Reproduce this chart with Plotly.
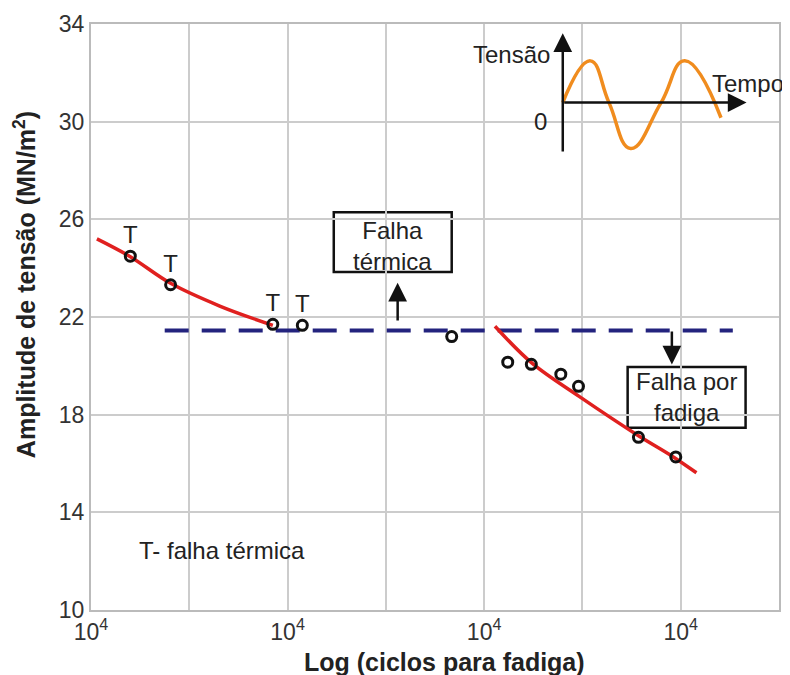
import plotly.graph_objects as go

# ---- data (x in grid units of the log axis, y in MN/m^2) ----
thermal_x = [0.40, 0.81, 1.85, 2.15]
thermal_y = [24.49, 23.32, 21.70, 21.66]
fatigue_x = [3.67, 4.24, 4.48, 4.78, 4.96, 5.57, 5.95]
fatigue_y = [21.20, 20.15, 20.06, 19.66, 19.16, 17.07, 16.27]
curve1_x = [0.06, 0.40, 0.81, 1.31, 1.85]
curve1_y = [25.20, 24.47, 23.38, 22.45, 21.66]
curve2_x = [4.11, 4.49, 4.97, 5.57, 5.89, 6.16]
curve2_y = [21.62, 20.10, 18.74, 17.14, 16.36, 15.62]
limit_x = [0.75, 6.53]
limit_y = [21.45, 21.45]
# schematic sine of the inset
sine_x = [4.80, 5.08, 5.27, 5.49, 5.80, 6.04, 6.41]
sine_y = [30.78, 32.49, 30.78, 28.90, 30.78, 32.49, 30.16]
y_ticks = [10, 14, 18, 22, 26, 30, 34]
x_grid = [0, 1, 2, 3, 4, 5, 6, 7]
x_ticktext = ["10<sup>4</sup>", "", "10<sup>4</sup>", "", "10<sup>4</sup>", "", "10<sup>4</sup>", ""]

FONT = "Liberation Sans, Arial, sans-serif"
TXT = "#222222"
fig = go.Figure()

fig.add_trace(go.Scatter(x=limit_x, y=limit_y, mode="lines",
                         line=dict(color="#23237e", width=4, dash="24px,13px")))
fig.add_trace(go.Scatter(x=curve1_x, y=curve1_y, mode="lines", line_shape="spline",
                         line=dict(color="#e0201f", width=3.5)))
fig.add_trace(go.Scatter(x=curve2_x, y=curve2_y, mode="lines", line_shape="spline",
                         line=dict(color="#e0201f", width=3.5)))
fig.add_trace(go.Scatter(x=thermal_x, y=thermal_y, mode="markers+text",
                         text=["T"] * len(thermal_x), textposition="top center",
                         textfont=dict(family=FONT, size=24, color=TXT),
                         marker=dict(symbol="circle-open", size=10, color="#111",
                                     line=dict(width=3, color="#111"))))
fig.add_trace(go.Scatter(x=fatigue_x, y=fatigue_y, mode="markers",
                         marker=dict(symbol="circle-open", size=10, color="#111",
                                     line=dict(width=3, color="#111"))))
fig.add_trace(go.Scatter(x=sine_x, y=sine_y, mode="lines", line_shape="spline",
                         line=dict(color="#f08c1e", width=3.5, smoothing=1.3)))

arrow = dict(xref="x", yref="y", axref="x", ayref="y", showarrow=True, arrowhead=2,
             arrowsize=1.5, arrowwidth=2.5, arrowcolor="#111", text="")
ann = []
# inset axes arrows
ann.append(dict(arrow, x=4.80, y=33.62, ax=4.80, ay=28.72))
ann.append(dict(arrow, x=6.67, y=30.78, ax=4.80, ay=30.78))
ann.append(dict(x=4.69, y=32.75, text="Tensão", showarrow=False, xanchor="right",
                font=dict(family=FONT, size=24, color=TXT)))
ann.append(dict(x=6.30, y=31.55, text="Tempo", showarrow=False, xanchor="left",
                font=dict(family=FONT, size=24, color=TXT)))
ann.append(dict(x=4.66, y=30.0, text="0", showarrow=False, xanchor="right",
                font=dict(family=FONT, size=24, color=TXT)))
# failure arrows
ann.append(dict(arrow, x=3.12, y=23.40, ax=3.12, ay=21.80))
ann.append(dict(arrow, x=5.91, y=20.05, ax=5.91, ay=21.47))
# boxed labels
ann.append(dict(x=3.07, y=24.92, text="Falha<br>térmica", showarrow=False,
                font=dict(family=FONT, size=24, color=TXT)))
ann.append(dict(x=6.06, y=18.72, text="Falha por<br>fadiga", showarrow=False,
                font=dict(family=FONT, size=24, color=TXT)))
ann.append(dict(x=0.47, y=12.45, text="T- falha térmica", showarrow=False, xanchor="left",
                font=dict(family=FONT, size=24, color=TXT)))
# axis titles
ann.append(dict(xref="paper", yref="paper", x=-0.096, y=0.556, textangle=-90,
                xanchor="center", yanchor="middle",
                text="<b>Amplitude de tensão (MN/m<sup>2</sup>)</b>", showarrow=False,
                font=dict(family=FONT, size=25, color=TXT)))
ann.append(dict(xref="paper", yref="paper", x=0.514, y=-0.088,
                xanchor="center", yanchor="middle",
                text="<b>Log (ciclos para fadiga)</b>", showarrow=False,
                font=dict(family=FONT, size=25, color=TXT)))
fig.update_layout(annotations=ann)

fig.add_shape(type="rect", x0=2.47, x1=3.67, y0=23.84, y1=26.29, xref="x", yref="y",
              line=dict(color="#111", width=2.5), fillcolor="white", layer="below")
fig.add_shape(type="rect", x0=5.46, x1=6.66, y0=17.46, y1=19.95, xref="x", yref="y",
              line=dict(color="#111", width=2.5), fillcolor="white", layer="below")

fig.update_xaxes(range=[0, 7], tickvals=x_grid, ticktext=x_ticktext, automargin=False,
                 showgrid=True, gridcolor="#cccccc", gridwidth=2,
                 showline=True, linecolor="#bbbbbb", linewidth=2, mirror=True,
                 zeroline=False, ticks="", tickfont=dict(family=FONT, size=23, color="#333"))
fig.update_yaxes(range=[10, 34], tickvals=y_ticks, automargin=False,
                 showgrid=True, gridcolor="#cccccc", gridwidth=2,
                 showline=True, linecolor="#bbbbbb", linewidth=2, mirror=True,
                 zeroline=False, ticks="", tickfont=dict(family=FONT, size=23, color="#333"))

# the page body adds an 8px offset, so the figure is sized to the remaining window
fig.update_layout(width=782, height=667, showlegend=False,
                  margin=dict(l=83, r=11, t=16, b=65),
                  paper_bgcolor="white", plot_bgcolor="white")

fig.write_html("out.html")
